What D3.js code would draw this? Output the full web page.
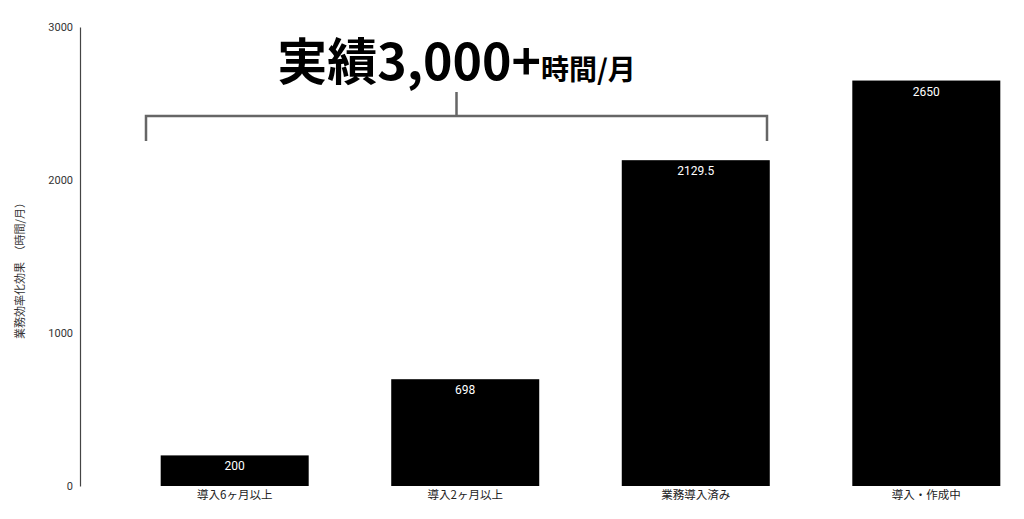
<!DOCTYPE html>
<html>
<head>
<meta charset="utf-8">
<script src="https://cdn.jsdelivr.net/npm/d3@7"></script>
<style>
  body { margin: 0; background: #fff; }
  text { font-family: "Noto Sans CJK JP", "Noto Sans", sans-serif; }
</style>
</head>
<body>
<div id="chart-area"></div>
<script>
// data
const categories = ["導入6ヶ月以上", "導入2ヶ月以上", "業務導入済み", "導入・作成中"]
const values = [200, 698, 2129.5, 2650]
const yTicks = [0, 1000, 2000, 3000]

const W = 1024, H = 519
const AXIS_X = 80, Y0 = 486, Y1 = 27

const svg = d3.select("#chart-area").append("svg")
    .attr("width", W)
    .attr("height", H)

const x = d3.scaleBand()
    .domain(categories)
    .range([AXIS_X, 1081])
    .paddingInner(0.358)
    .paddingOuter(0.35)

const y = d3.scaleLinear()
    .domain([0, 3000])
    .range([Y0, Y1])

// bars
svg.selectAll("rect.bar")
    .data(values)
    .enter()
    .append("rect")
    .attr("class", "bar")
    .attr("x", (d, i) => x(categories[i]))
    .attr("y", d => y(d))
    .attr("width", x.bandwidth())
    .attr("height", d => Y0 - y(d))
    .attr("fill", "#000")

// value labels
svg.selectAll("text.data-label")
    .data(values)
    .enter()
    .append("text")
    .attr("class", "data-label")
    .attr("x", (d, i) => x(categories[i]) + x.bandwidth() / 2)
    .attr("y", d => y(d) + 15)
    .attr("text-anchor", "middle")
    .attr("fill", "#fff")
    .attr("font-size", "12px")
    .style("font-family", "Roboto, sans-serif")
    .text(d => d)

// y axis
const yAxis = svg.append("g")
    .attr("transform", `translate(${AXIS_X}, 0)`)
    .call(d3.axisLeft(y).tickValues(yTicks).tickFormat(d3.format("d")).tickSize(0).tickPadding(7))
yAxis.select(".domain").attr("stroke", "#444").attr("stroke-width", 1.2)
yAxis.selectAll("text").attr("font-size", "11px").attr("fill", "#333")
    .style("font-family", "Roboto, sans-serif")

// x axis labels
const xAxis = svg.append("g")
    .attr("transform", `translate(0, ${Y0})`)
    .call(d3.axisBottom(x).tickSize(0).tickPadding(5))
xAxis.select(".domain").remove()
xAxis.selectAll("text").attr("font-size", "11.5px").attr("fill", "#222")

// y axis title
svg.append("text")
    .attr("transform", `translate(24, ${268}) rotate(-90)`)
    .attr("text-anchor", "middle")
    .attr("font-size", "11px")
    .attr("fill", "#333")
    .text("業務効率化効果　（時間/月）")

// bracket over first three bars
const bx0 = 146, bx1 = 767, by = 116, bmid = (bx0 + bx1) / 2
svg.append("path")
    .attr("d", `M${bx0},${by + 25}V${by}H${bx1}V${by + 25}M${bmid},${by}V${by - 24}`)
    .attr("fill", "none")
    .attr("stroke", "#666")
    .attr("stroke-width", 2.5)

// headline
const title = svg.append("text")
    .attr("x", bmid)
    .attr("y", 80)
    .attr("text-anchor", "middle")
    .attr("font-weight", "bold")
    .attr("fill", "#000")
title.append("tspan").attr("font-size", "50px").text("実績3,000+")
title.append("tspan").attr("font-size", "28px").text("時間/月")
</script>
</body>
</html>
